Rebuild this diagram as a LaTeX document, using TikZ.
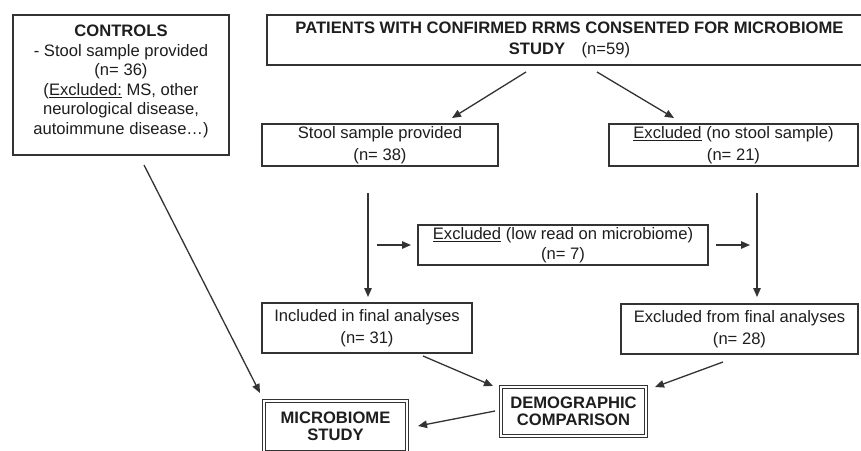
\documentclass[tikz,border=0pt]{standalone}
\usepackage{fontspec}
\setmainfont{Liberation Sans}
\usetikzlibrary{arrows.meta}
\definecolor{ink}{HTML}{1E1E1E}
\definecolor{edge}{HTML}{333333}
\begin{document}
\begin{tikzpicture}[x=1pt,y=-1pt,
  box/.style={draw=edge, line width=1.4pt, rectangle, inner sep=0pt, align=center, text=ink,
    font=\fontsize{16.6}{21.5}\selectfont},
  dbox/.style={draw=edge, line width=1.1pt, double=white, double distance=2pt, rectangle, inner sep=0pt,
    align=center, text=ink, font=\fontsize{16.6}{17}\selectfont\bfseries},
  arr/.style={draw=edge, line width=1.3pt, -{Triangle[length=9pt,width=7.5pt]}}]
\useasboundingbox (0,0) rectangle (861,450);
\fill[white] (0,0) rectangle (861,450);

% controls box
\node[box, minimum width=216, minimum height=140] (controls) at (121,85) {};
\node[align=center, text=ink, inner sep=0pt, font=\fontsize{16.6}{19.5}\selectfont] (controlstext) at (121,81.5)
  {\textbf{CONTROLS}\\- Stool sample provided\\(n= 36)\\(\underline{Excluded:} MS, other\\neurological disease,\\autoimmune disease…)};

% main flow
\node[box, minimum width=605, minimum height=50] (top) at (569.5,40)
  {\textbf{PATIENTS WITH CONFIRMED RRMS CONSENTED FOR MICROBIOME}\\\textbf{STUDY}\quad(n=59)};
\node[box, minimum width=236, minimum height=42] (stool) at (380,145)
  {Stool sample provided\\(n= 38)};
\node[box, minimum width=249, minimum height=42] (nostool) at (733.5,145)
  {\underline{Excluded} (no stool sample)\\(n= 21)};
\node[box, minimum width=290, minimum height=40, font=\fontsize{16.6}{20}\selectfont] (lowread) at (563,245)
  {\underline{Excluded} (low read on microbiome)\\(n= 7)};
\node[box, minimum width=210, minimum height=50] (included) at (367,328)
  {Included in final analyses\\(n= 31)};
\node[box, minimum width=237, minimum height=50] (exclfinal) at (739.5,329)
  {Excluded from final analyses\\(n= 28)};
\node[dbox, minimum width=145, minimum height=49] (demo) at (573.5,411.5)
  {DEMOGRAPHIC\\COMPARISON};
\node[dbox, minimum width=143, minimum height=51] (micro) at (335.5,426.5)
  {MICROBIOME\\STUDY};

% arrow end points
\coordinate (a1s) at (526,72);  \coordinate (a1e) at (452,118);
\coordinate (a2s) at (597,72);  \coordinate (a2e) at (674,118);
\coordinate (a3s) at (368,193); \coordinate (a3e) at (368,297);
\coordinate (a4s) at (757,193); \coordinate (a4e) at (757,297);
\coordinate (a5s) at (377,245); \coordinate (a5e) at (411,245);
\coordinate (a6s) at (716,245); \coordinate (a6e) at (750,245);
\coordinate (a7s) at (144,165); \coordinate (a7e) at (260,393);
\coordinate (a8s) at (423,356); \coordinate (a8e) at (493,386);
\coordinate (a9s) at (723,362); \coordinate (a9e) at (655,387);
\coordinate (a10s) at (495,411); \coordinate (a10e) at (418,426);

\draw[arr] (a1s) -- (a1e);
\draw[arr] (a2s) -- (a2e);
\draw[arr] (a3s) -- (a3e);
\draw[arr] (a4s) -- (a4e);
\draw[arr] (a5s) -- (a5e);
\draw[arr] (a6s) -- (a6e);
\draw[arr] (a7s) -- (a7e);
\draw[arr] (a8s) -- (a8e);
\draw[arr] (a9s) -- (a9e);
\draw[arr] (a10s) -- (a10e);
\end{tikzpicture}
\end{document}
